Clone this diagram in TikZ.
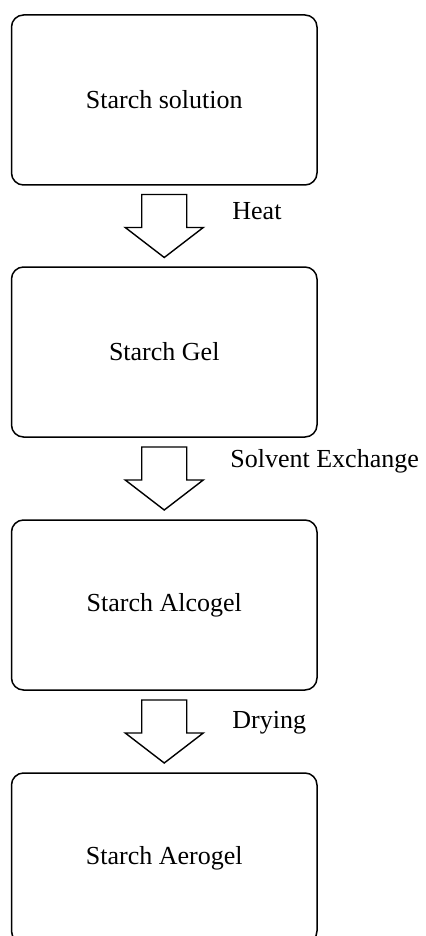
\documentclass[tikz,border=0pt]{standalone}
\usepackage{fontspec}
\setmainfont{Liberation Serif}
\usetikzlibrary{calc}

\tikzset{
    stagebox/.style={draw, line width=0.75pt, rounded corners=6pt,
        minimum width=152.75pt, minimum height=85pt, inner sep=0pt},
    blockarrow/.style={draw, line width=0.7pt, line join=miter},
    steplabel/.style={anchor=base west, inner sep=0pt}
}

\begin{document}
\begin{tikzpicture}[x=0.5pt, y=-0.5pt, font=\fontsize{13}{15}\selectfont]
                \useasboundingbox (0,0) rectangle (425,936);
                % stages
                \node[stagebox] (sol) at (164.25,100) {Starch solution};
                \node[stagebox] (gel) at (164.25,352) {Starch Gel};
                \node[stagebox] (alco) at (164.25,605) {Starch Alcogel};
                \node[stagebox] (aero) at (164.25,858) {Starch Aerogel};
                % block arrows in between
                \foreach \up/\down/\m in {sol/gel/m1, gel/alco/m2, alco/aero/m3} {
                    \coordinate (\m) at ($(\up.south)!0.5!(\down.north)$);
                    \draw[blockarrow] ($(\m)+(-22.5,-31.5)$) -- ++(0,33) -- ++(-16.5,0)
                        -- ($(\m)+(0,31.5)$) -- ($(\m)+(39,1.5)$) -- ++(-16.5,0)
                        -- ($(\m)+(22.5,-31.5)$) -- cycle;
                }
                % what happens at each step
                \node[steplabel] (heat) at (232,220) {Heat};
                \node[steplabel] (exch) at (230,467.5) {Solvent Exchange};
                \node[steplabel] (dry) at (232,728) {Drying};
            \end{tikzpicture}
\end{document}
